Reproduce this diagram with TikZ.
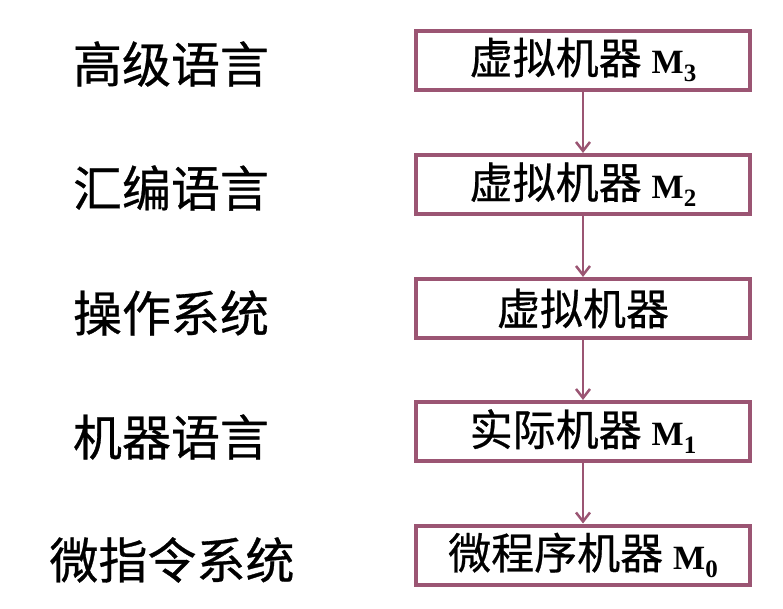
\documentclass[tikz,border=0pt]{standalone}
\usepackage{fontspec}
\setmainfont{Liberation Serif}
\newfontfamily\tms{Liberation Serif}
\newfontfamily\cjk[FakeBold=0.6]{Noto Sans CJK SC}
\usetikzlibrary{arrows.meta}
\definecolor{boxc}{RGB}{155,85,115}
\newcommand{\Msub}[1]{\hspace{10pt}{\tms\bfseries\fontsize{34}{34}\selectfont M\raisebox{-8pt}{\fontsize{25}{25}\selectfont #1}}}
\tikzset{
  mbox/.style={draw=boxc, line width=4pt, minimum width=334pt, minimum height=59pt, inner sep=0pt, font=\cjk\fontsize{43}{43}\selectfont},
  lbl/.style={font=\cjk\fontsize{49}{49}\selectfont, inner sep=0pt},
  conn/.style={draw=boxc, line width=2.5pt, -{Straight Barb[length=9pt,width=14pt,line width=2.5pt]}}
}
\begin{document}
\begin{tikzpicture}[x=1pt,y=-1pt]
\useasboundingbox (0,0) rectangle (783,608);
\node[mbox] (b3) at (583,60) {虚拟机器\Msub{3}};
\node[mbox] (b2) at (583,184.5) {虚拟机器\Msub{2}};
\node[mbox] (bos) at (583,308.5) {虚拟机器};
\node[mbox] (b1) at (583,431.5) {实际机器\Msub{1}};
\node[mbox] (b0) at (583,555) {微程序机器\Msub{0}};
\node[lbl] (l1) at (171,64) {高级语言};
\node[lbl] (l2) at (171,188) {汇编语言};
\node[lbl] (l3) at (171,313) {操作系统};
\node[lbl] (l4) at (171,437) {机器语言};
\node[lbl] (l5) at (172,560) {微指令系统};
\draw[conn] (b3) -- (b2);
\draw[conn] (b2) -- (bos);
\draw[conn] (bos) -- (b1);
\draw[conn] (b1) -- (b0);
\end{tikzpicture}
\end{document}
